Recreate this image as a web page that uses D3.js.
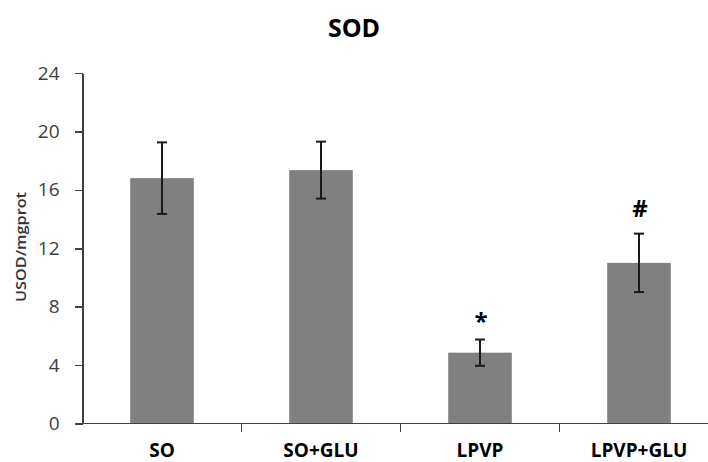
<!DOCTYPE html>
<html>
<head>
<meta charset="UTF-8">
<script src="https://cdn.jsdelivr.net/npm/d3@7"></script>
<style>
  body { margin: 0; background: #fff; }
  .axis path, .axis line { stroke: #404040; stroke-width: 1.5; shape-rendering: crispEdges; }
  .y.axis text { font: 19px "Open Sans", sans-serif; fill: #404040; }
  .x.axis text { font: bold 19px "Open Sans", sans-serif; fill: #000; }
</style>
</head>
<body>
<div class="chart"></div>
<script>
var groups = ["SO", "SO+GLU", "LPVP", "LPVP+GLU"];
var means = [16.8, 17.35, 4.85, 11.0];
var errors = [2.45, 1.95, 0.9, 2.0];
var marks = ["", "", "*", "#"];
var yTicks = [0, 4, 8, 12, 16, 20, 24];

var W = 708, H = 462;
var margin = {top: 73, right: -10.5, bottom: 38.5, left: 82.5},
    width = W - margin.left - margin.right,
    height = H - margin.top - margin.bottom;

var svg = d3.select(".chart").append("svg")
    .attr("width", W)
    .attr("height", H);

svg.append("text")
    .attr("x", 354)
    .attr("y", 37)
    .attr("text-anchor", "middle")
    .style("font", "bold 25px 'Open Sans', sans-serif")
    .text("SOD");

var g = svg.append("g")
    .attr("transform", "translate(" + margin.left + "," + margin.top + ")");

var x = d3.scaleBand().domain(groups).range([0, width]).paddingInner(0.6).paddingOuter(0.3);
var y = d3.scaleLinear().domain([0, 24]).range([height, 0]);

g.selectAll(".bar")
    .data(groups)
  .enter().append("rect")
    .attr("class", "bar")
    .attr("x", function(d) { return x(d); })
    .attr("width", x.bandwidth())
    .attr("y", function(d, i) { return y(means[i]); })
    .attr("height", function(d, i) { return height - y(means[i]); })
    .style("fill", "#808080");

// error bars
var eb = g.selectAll(".err")
    .data(groups)
  .enter().append("g")
    .attr("class", "err")
    .attr("transform", function(d) { return "translate(" + (x(d) + x.bandwidth() / 2) + ",0)"; })
    .style("stroke", "#1a1a1a")
    .style("stroke-width", 2);
eb.append("line")
    .attr("y1", function(d, i) { return y(means[i] + errors[i]); })
    .attr("y2", function(d, i) { return y(means[i] - errors[i]); });
eb.append("line")
    .attr("x1", -5).attr("x2", 5)
    .attr("y1", function(d, i) { return y(means[i] + errors[i]); })
    .attr("y2", function(d, i) { return y(means[i] + errors[i]); });
eb.append("line")
    .attr("x1", -5).attr("x2", 5)
    .attr("y1", function(d, i) { return y(means[i] - errors[i]); })
    .attr("y2", function(d, i) { return y(means[i] - errors[i]); });

// significance marks
g.selectAll(".mark")
    .data(groups)
  .enter().append("text")
    .attr("class", "mark")
    .attr("x", function(d) { return x(d) + x.bandwidth() / 2 + 1; })
    .attr("y", function(d, i) { return y(means[i] + errors[i]) - (i == 2 ? 10 : 17); })
    .attr("text-anchor", "middle")
    .style("font", "bold 24px 'Open Sans', sans-serif")
    .text(function(d, i) { return marks[i]; });

g.append("g")
    .attr("class", "y axis")
    .call(d3.axisLeft(y).tickValues(yTicks).tickSize(8).tickSizeOuter(0).tickPadding(15));

var xAxis = g.append("g")
    .attr("class", "x axis")
    .attr("transform", "translate(0," + height + ")")
    .call(d3.axisBottom(x).tickSize(0).tickPadding(20));
xAxis.select(".domain").attr("d", "M0,0H" + width);

// ticks between categories
var gap = x.step() - x.bandwidth();
xAxis.selectAll(".sep")
    .data(groups.slice(1))
  .enter().append("line")
    .attr("class", "sep")
    .attr("x1", function(d) { return x(d) - gap / 2; })
    .attr("x2", function(d) { return x(d) - gap / 2; })
    .attr("y1", 0).attr("y2", 8);

svg.append("text")
    .attr("transform", "translate(26,247) rotate(-90)")
    .attr("text-anchor", "middle")
    .attr("textLength", 110)
    .attr("lengthAdjust", "spacingAndGlyphs")
    .style("font", "600 14px 'Open Sans', sans-serif")
    .style("fill", "#333")
    .text("USOD/mgprot");
</script>
</body>
</html>
